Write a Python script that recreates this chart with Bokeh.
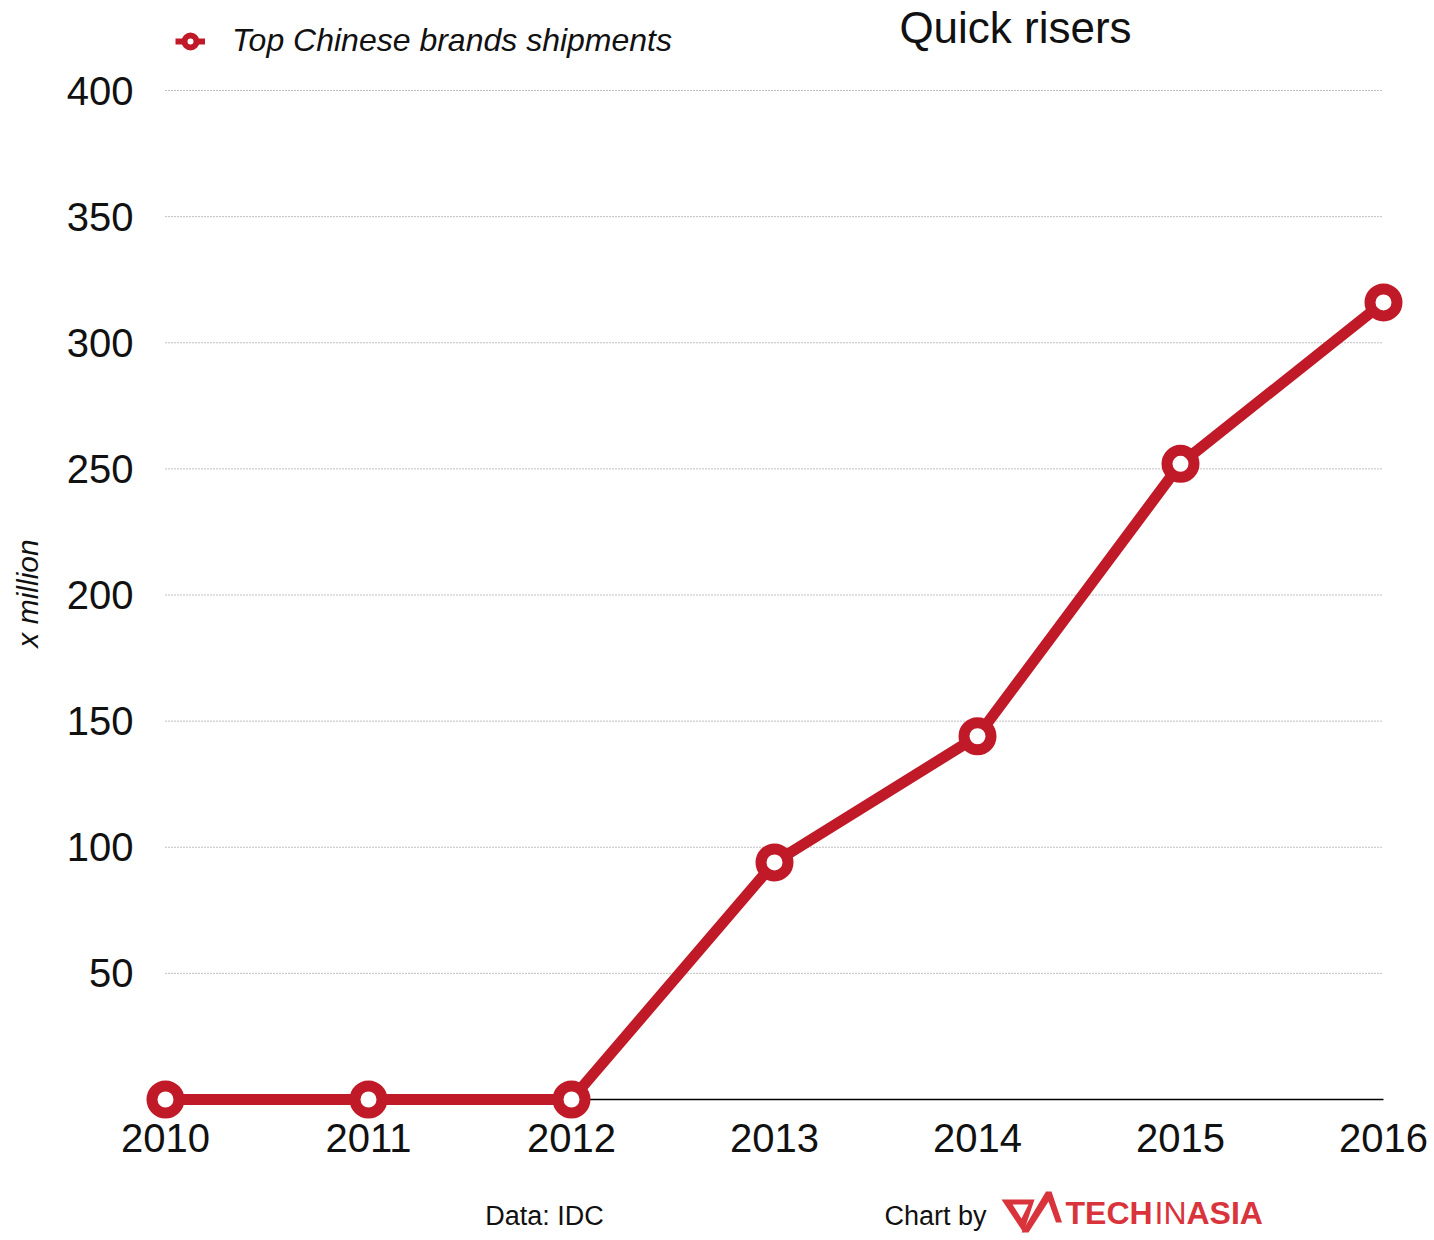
import math
from bokeh.plotting import figure
from bokeh.models import (Range1d, FixedTicker, Legend, LegendItem, Label,
                          ColumnDataSource, PolyAnnotation)
from bokeh.embed import file_html
from bokeh.resources import INLINE

# ---- data ----
years = [2010, 2011, 2012, 2013, 2014, 2015, 2016]
year_labels = ["2010", "2011", "2012", "2013", "2014", "2015", "2016"]
shipments = [0, 0, 0, 94, 144, 252, 316]
y_ticks = [50, 100, 150, 200, 250, 300, 350, 400]
y_tick_labels = ["50", "100", "150", "200", "250", "300", "350", "400"]
series_name = "Top Chinese brands shipments"
title_text = "Quick risers"
y_axis_text = "x million"
source_text = "Data: IDC"
credit_text = "Chart by"

RED = "#C01A28"
FONT = "Liberation Sans"

# ---- geometry (pixels); the frame covers the whole canvas ----
W, H = 1434, 1240
X0PX, X1PX = 165, 1383                          # 2010 / 2016 positions
Y0PX, Y400PX = 1099, 90                         # 0 / 400 positions

xs_per_px = (years[-1] - years[0]) / (X1PX - X0PX)
ys_per_px = 400 / (Y0PX - Y400PX)
x_start = years[0] - X0PX * xs_per_px
x_end = years[-1] + (W - X1PX) * xs_per_px
y_start = 0 - (H - Y0PX) * ys_per_px
y_end = 0 + Y0PX * ys_per_px

p = figure(width=W, height=H, output_backend="svg", toolbar_location=None,
           x_range=Range1d(x_start, x_end), y_range=Range1d(y_start, y_end),
           min_border=0, min_border_left=0, min_border_right=0,
           min_border_top=0, min_border_bottom=0)
p.outline_line_color = None
p.background_fill_color = "white"
p.border_fill_color = "white"
p.xgrid.visible = False
p.ygrid.visible = False

# axes, pinned to the data origin
p.xaxis.fixed_location = 0
p.yaxis.fixed_location = years[0]
p.xaxis.ticker = FixedTicker(ticks=years)
p.xaxis.major_label_overrides = {y: l for y, l in zip(years, year_labels)}
p.yaxis.ticker = FixedTicker(ticks=y_ticks)
p.yaxis.major_label_overrides = {t: l for t, l in zip(y_ticks, y_tick_labels)}
for ax in (p.xaxis, p.yaxis):
    ax.axis_line_color = None
    ax.major_tick_line_color = None
    ax.minor_tick_line_color = None
    ax.major_tick_out = 0
    ax.major_tick_in = 0
    ax.major_label_text_font = FONT
    ax.major_label_text_font_size = "40px"
    ax.major_label_text_color = "#111111"
p.xaxis.major_label_standoff = 24
p.yaxis.major_label_standoff = 32

# dotted gridlines spanning the data range only
p.segment(x0=[years[0]] * len(y_ticks), x1=[years[-1]] * len(y_ticks),
          y0=y_ticks, y1=y_ticks, line_color="#808080", line_width=1,
          line_dash="1 2")
# baseline
p.segment(x0=[years[0]], x1=[years[-1]], y0=[0], y1=[0],
          line_color="black", line_width=1.5)

src = ColumnDataSource(dict(x=years, y=shipments))
p.line("x", "y", source=src, line_color=RED, line_width=11)
p.scatter("x", "y", source=src, size=27, line_color=RED, line_width=11,
          fill_color="white")

# legend proxies (thinner ring, as in the original legend)
proxy = ColumnDataSource(dict(x=[math.nan], y=[math.nan]))
lg_line = p.line("x", "y", source=proxy, line_color=RED, line_width=6)
lg_mark = p.scatter("x", "y", source=proxy, size=12, line_color=RED,
                    line_width=6, fill_color="white")

legend = Legend(items=[LegendItem(label=series_name,
                                  renderers=[lg_line, lg_mark])],
                location=(175, H - 59), orientation="vertical",
                glyph_width=30, glyph_height=34, label_height=34,
                label_standoff=27, padding=0, margin=0, spacing=0,
                border_line_color=None, background_fill_alpha=0,
                label_text_font=FONT, label_text_font_style="italic",
                label_text_font_size="32px", label_text_color="#111111")
p.add_layout(legend)


def sy(py):
    return H - py


def add_label(text, x, y, size, align="left", baseline="middle",
              style="normal", color="#111111", angle=0.0):
    p.add_layout(Label(x=x, y=sy(y), x_units="screen", y_units="screen",
                       text=text, text_font=FONT, text_font_size=size,
                       text_font_style=style, text_color=color,
                       text_align=align, text_baseline=baseline, angle=angle))


def add_poly(xs, ys, color):
    p.add_layout(PolyAnnotation(xs=xs, ys=[sy(v) for v in ys],
                                xs_units="screen", ys_units="screen",
                                fill_color=color, fill_alpha=1,
                                line_color=None))


add_label(title_text, 1015, 27, "44px", align="center")
add_label(y_axis_text, 27, 593, "30px", align="center", style="italic",
          angle=math.pi / 2)
add_label(source_text, 544, 1215, "27px", align="center")
add_label(credit_text, 884, 1215, "27px")

LOGO_RED = "#D9343C"
add_label("TECH", 1065, 1212, "32px", style="bold", color=LOGO_RED)
add_label("IN", 1154, 1212, "32px", color=LOGO_RED)
add_label("ASIA", 1186, 1212, "32px", style="bold", color=LOGO_RED)

# logo mark: a triangular wing plus an "A" chevron
add_poly([1001, 1034, 1023], [1199, 1199, 1232], LOGO_RED)
add_poly([1012, 1028, 1021], [1204, 1204, 1218], "white")
add_poly([1021, 1045.5, 1051, 1061.5, 1055.5, 1048, 1028],
         [1232, 1191, 1191, 1222, 1222, 1201, 1232], LOGO_RED)

open("out.html", "w").write(file_html(p, INLINE))
